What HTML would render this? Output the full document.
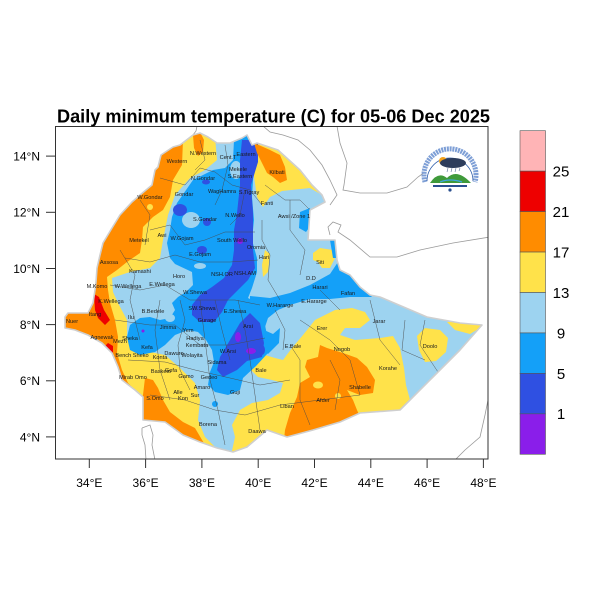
<!DOCTYPE html>
<html>
<head>
<meta charset="utf-8">
<style>
html,body{margin:0;padding:0;background:#fff;}
svg{display:block;}
.t{font-family:"Liberation Sans",Arial,sans-serif;}
.lab{font-family:"Liberation Sans",Arial,sans-serif;font-size:5.6px;fill:#1a1a1a;text-anchor:middle;}
</style>
</head>
<body>
<svg width="600" height="600" viewBox="0 0 600 600" xmlns="http://www.w3.org/2000/svg">
<rect width="600" height="600" fill="#fff"/>
<defs>
<clipPath id="eth">
<path d="M161,155 L173,147 L180,145 L193,135 L200,133 L208,137 L217,143 L230,143 L242,138 L247,135 L252,145 L257,143 L278,150 L300,170 L312,185 L322,195 L325,202 L310,210 L308,240 L335,240 L337,260 L340,270 L350,275 L360,287 L370,295 L380,297 L427,317 L460,323 L482,325 L460,350 L433,377 L413,397 L400,410 L360,413 L340,422 L313,430 L287,437 L267,430 L247,447 L233,452 L217,448 L200,442 L183,435 L165,422 L143,420 L143,397 L135,390 L122,380 L118,367 L112,353 L102,343 L88,335 L75,330 L65,328 L65,317 L68,313 L88,313 L93,303 L95,290 L96,282 L97,268 L100,255 L103,243 L112,228 L120,215 L132,202 L140,195 L152,185 L155,170 L158,167 Z"/>
</clipPath>
<clipPath id="plot"><rect x="55" y="126" width="433" height="333"/></clipPath>
</defs>

<!-- neighbour lines -->
<g clip-path="url(#plot)" fill="none" stroke="#9a9a9a" stroke-width="0.8">
<polyline points="197,126 196,131 193,135"/>
<polyline points="263,126 270,132 283,135 298,140 310,150 322,165 330,180 337,195 330,205"/>
<polyline points="337,126 340,143 347,163 344,185 343,190 360,193 387,193 407,187 418,177 425,172"/>
<polyline points="330,235 328,227 333,222 341,225 338,232 350,240 370,257 397,257 420,250 453,243 490,237"/>
<polyline points="490,390 485,415 480,437 465,450 455,460"/>
<path d="M142,428 L150,425 L153,435 L152,445 L155,460 M146,460 L145,445 L142,435 L142,428"/>
</g>

<!-- map fill -->
<g clip-path="url(#eth)">
<rect x="55" y="120" width="440" height="340" fill="#FFE24A"/>
<!-- light blue -->
<polygon fill="#9DD3F0" points="212,120 215,137 217,160 205,170 190,178 175,195 168,215 163,240 160,258 150,268 130,272 112,278 113,292 118,303 127,320 127,337 133,348 150,352 165,355 180,368 195,383 200,400 198,420 205,437 218,450 230,460 235,437 232,425 240,410 252,403 268,400 280,393 283,383 272,380 258,377 251,370 256,360 265,355 275,358 283,360 292,348 303,335 315,320 335,310 352,308 365,312 370,320 360,328 345,328 340,335 355,340 380,338 393,336 400,348 404,368 406,385 410,400 440,380 520,330 500,290 360,200 330,192 322,195 310,188 282,191 270,197 263,207 257,197 253,170 250,145 250,120"/>
<!-- yellow patches on light blue -->
<polygon fill="#FFE24A" points="313,253 320,248 333,250 335,258 330,268 322,268 318,262 313,260"/>
<polygon fill="#FFE24A" points="265,250 270,254 268,272 263,277 262,265"/>
<polygon fill="#FFE24A" points="417,336 425,328 440,330 448,338 446,352 436,361 425,362 419,350"/>
<polygon fill="#FFE24A" points="447,322 490,322 470,334 455,330"/>
<!-- blue -->
<g fill="#14A0F8">
<polygon points="234,130 256,130 253,143 254,165 252,197 254,220 252,240 257,258 257,272 252,288 248,298 256,302 262,312 265,325 268,340 268,353 256,366 243,378 240,390 228,395 215,392 208,385 210,372 214,362 212,350 206,340 198,332 188,330 175,335 165,345 155,352 140,355 130,350 127,337 130,325 140,318 150,317 160,320 170,318 175,310 172,303 178,297 186,292 193,285 192,272 175,264 170,258 167,243 170,230 172,217 177,203 193,180 213,170 225,168 233,160 234,140"/>
<polygon points="250,296 270,298 290,293 310,285 330,274 338,262 345,268 360,285 372,297 350,297 330,299 310,299 290,305 278,310 268,318 264,330 273,334 280,328 279,343 268,354 260,345 258,320 250,305"/>
<polygon points="300,212 310,208 311,225 306,232 299,228"/>
<polygon points="330,240 337,240 338,258 333,258"/>
<ellipse cx="215" cy="404" rx="3" ry="3"/>
</g>
<!-- light blue holes -->
<g fill="#9DD3F0">
<ellipse cx="236" cy="170" rx="6" ry="9"/>
<ellipse cx="191" cy="220" rx="9" ry="8"/>
<ellipse cx="200" cy="266" rx="6" ry="3"/>
<ellipse cx="170" cy="318" rx="5" ry="4"/>
</g>
<!-- dark blue -->
<g fill="#2F50E2">
<polygon points="242,140 252,140 258,142 258,162 251,185 253,213 253,250 255,268 248,280 238,290 228,300 222,312 214,322 200,322 192,315 192,305 200,295 212,287 224,278 232,265 234,250 234,230 237,213 240,185 240,160"/>
<polygon points="250,313 260,323 264,343 262,357 247,361 237,370 223,377 217,370 220,357 230,340 240,323"/>
<ellipse cx="180" cy="210" rx="7" ry="6"/>
<ellipse cx="202" cy="250" rx="5" ry="4"/>
<ellipse cx="207" cy="222" rx="4" ry="4"/>
<ellipse cx="206" cy="182" rx="4" ry="2.5"/>
<ellipse cx="262" cy="350" rx="3" ry="5"/>
</g>
<!-- purple -->
<g fill="#8A1EEA">
<ellipse cx="240" cy="241" rx="3" ry="3"/>
<ellipse cx="238" cy="337" rx="3" ry="5"/>
<ellipse cx="251" cy="351" rx="5" ry="3"/>
<ellipse cx="143" cy="331" rx="1.5" ry="1.5"/>
</g>
<!-- orange -->
<g fill="#FF8C00">
<polygon points="60,120 178,120 183,140 182,165 173,180 170,197 163,210 153,217 143,227 142,240 140,253 127,262 117,270 107,277 108,290 110,303 115,320 118,337 117,353 122,370 128,383 137,392 60,420"/>
<polygon points="193,135 200,132 204,140 203,152 198,156 194,148"/>
<polygon points="143,395 145,378 153,380 158,388 163,400 170,412 183,422 195,428 205,445 150,470 130,420 140,400"/>
<polygon points="320,345 318,357 307,360 305,367 310,377 300,383 297,397 290,413 285,430 283,450 370,440 357,410 353,400 347,390 360,395 373,393 375,380 367,367 357,358 343,353 327,348"/>
<polygon points="254,143 270,150 280,155 285,167 287,180 280,183 273,177 267,173 262,163 257,153"/>
</g>
<g fill="#FFE24A">
<ellipse cx="318" cy="385" rx="5" ry="3.5"/>
<ellipse cx="338" cy="396" rx="3" ry="3"/>
<ellipse cx="150" cy="207" rx="3" ry="3"/>
</g>
<!-- red -->
<g fill="#EE0000">
<polygon points="94,294 99,297 104,310 110,320 105,325 98,318 95,310"/>
<polygon points="103,348 108,343 113,346 113,355 108,358 104,355"/>
</g>
<!-- internal boundaries -->
<g fill="none" stroke="#4a4a4a" stroke-width="0.45">
<polyline points="160,178 185,185 200,168 215,172 232,185 250,190 262,205"/>
<polyline points="150,230 170,225 185,245 205,240 225,232 255,232"/>
<polyline points="125,258 150,262 175,255 200,262 230,262 258,260"/>
<polyline points="110,285 140,290 165,285 190,300 210,300 235,300 260,305"/>
<polyline points="115,320 150,325 175,325 200,345 230,345 265,338"/>
<polyline points="128,360 165,362 195,370 230,378 260,385 290,380"/>
<polyline points="150,395 185,400 215,410 245,415 280,405 320,400 360,395"/>
<polyline points="262,220 262,240 270,255 268,280 280,300"/>
<polyline points="290,200 290,230 305,250 300,275"/>
<polyline points="300,320 330,340 350,360 360,395"/>
<polyline points="370,300 380,340 400,365"/>
<polyline points="290,345 300,360 300,400 310,425"/>
<polyline points="200,300 205,340 210,380 218,410 225,445"/>
<polyline points="160,300 155,330 160,370 170,400"/>
<polyline points="238,300 245,330 250,360 255,395 260,430"/>
<polyline points="330,360 340,380 335,410"/>
<polyline points="405,320 402,350 425,360"/>
<polyline points="200,140 205,160 195,170"/>
<polyline points="225,145 228,165 222,190 215,205"/>
<polyline points="245,190 240,215 230,225"/>
<polyline points="265,185 285,200 300,200 315,215"/>
<polyline points="140,200 150,215 145,245"/>
<polyline points="120,250 135,275 130,300 140,340"/>
<polyline points="180,300 185,320 178,345 180,370 190,390"/>
<polyline points="215,300 222,330 230,360"/>
<polyline points="275,310 285,330 283,350"/>
<polyline points="320,290 330,300 340,310"/>
<polyline points="425,320 420,345 440,375"/>
</g>
</g>
<!-- country outline -->
<path fill="none" stroke="#cfcfcf" stroke-width="1.6" stroke-linejoin="round" d="M161,155 L173,147 L180,145 L193,135 L200,133 L208,137 L217,143 L230,143 L242,138 L247,135 L252,145 L257,143 L278,150 L300,170 L312,185 L322,195 L325,202 L310,210 L308,240 L335,240 L337,260 L340,270 L350,275 L360,287 L370,295 L380,297 L427,317 L460,323 L482,325 L460,350 L433,377 L413,397 L400,410 L360,413 L340,422 L313,430 L287,437 L267,430 L247,447 L233,452 L217,448 L200,442 L183,435 L165,422 L143,420 L143,397 L135,390 L122,380 L118,367 L112,353 L102,343 L88,335 L75,330 L65,328 L65,317 L68,313 L88,313 L93,303 L95,290 L96,282 L97,268 L100,255 L103,243 L112,228 L120,215 L132,202 L140,195 L152,185 L155,170 L158,167 Z"/>

<!-- zone labels -->
<g class="lab">
<text x="203" y="155">N.Western</text>
<text x="228" y="159">Cent.T</text>
<text x="246" y="156">Eastern</text>
<text x="177" y="163">Western</text>
<text x="238" y="171">Mekele</text>
<text x="240" y="178">S.Eastern</text>
<text x="203" y="180">N.Gondar</text>
<text x="222" y="193">WagHamra</text>
<text x="249" y="194">S.Tigray</text>
<text x="150" y="199">W.Gondar</text>
<text x="184" y="196">Gondar</text>
<text x="277" y="174">Kilbati</text>
<text x="267" y="205">Fanti</text>
<text x="294" y="218">Awsi /Zone 1</text>
<text x="205" y="221">S.Gondar</text>
<text x="235" y="217">N.Wello</text>
<text x="139" y="242">Metekel</text>
<text x="162" y="237">Awi</text>
<text x="182" y="240">W.Gojam</text>
<text x="232" y="242">South Wello</text>
<text x="256" y="249">Oromia</text>
<text x="264" y="259">Hari</text>
<text x="320" y="264">Siti</text>
<text x="200" y="256">E.Gojam</text>
<text x="109" y="264">Assosa</text>
<text x="140" y="273">Kamashi</text>
<text x="179" y="278">Horo</text>
<text x="222" y="276">NSH.OR</text>
<text x="245" y="275">NSH.AM</text>
<text x="311" y="280">D.D</text>
<text x="320" y="289">Harari</text>
<text x="348" y="295">Fafan</text>
<text x="97" y="288">M.Komo</text>
<text x="128" y="288">W.Wellega</text>
<text x="162" y="286">E.Wellega</text>
<text x="195" y="294">W.Shewa</text>
<text x="280" y="307">W.Hararge</text>
<text x="314" y="303">E.Hararge</text>
<text x="111" y="303">K.Wellega</text>
<text x="153" y="313">B.Bedele</text>
<text x="202" y="310">SW.Shewa</text>
<text x="235" y="313">E.Shewa</text>
<text x="131" y="319">Ilu</text>
<text x="95" y="316">Itang</text>
<text x="72" y="323">Nuer</text>
<text x="207" y="322">Gurage</text>
<text x="168" y="329">Jimma</text>
<text x="188" y="332">Yem</text>
<text x="248" y="328">Arsi</text>
<text x="102" y="339">Agnewak</text>
<text x="130" y="340">Sheka</text>
<text x="195" y="340">Hadiya</text>
<text x="120" y="343">Mezh</text>
<text x="147" y="349">Kefa</text>
<text x="197" y="347">Kembata</text>
<text x="228" y="353">W.Arsi</text>
<text x="132" y="357">Bench Sheko</text>
<text x="160" y="359">Konta</text>
<text x="174" y="355">Dawuro</text>
<text x="192" y="357">Wolayita</text>
<text x="217" y="364">Sidama</text>
<text x="293" y="348">E.Bale</text>
<text x="322" y="330">Erer</text>
<text x="379" y="323">Jarar</text>
<text x="430" y="348">Doolo</text>
<text x="342" y="351">Nogob</text>
<text x="261" y="372">Bale</text>
<text x="133" y="379">Mirab Omo</text>
<text x="161" y="373">Basketo</text>
<text x="171" y="372">Gofa</text>
<text x="186" y="378">Gamo</text>
<text x="209" y="379">Gedeo</text>
<text x="388" y="370">Korahe</text>
<text x="178" y="394">Alle</text>
<text x="202" y="389">Amaro</text>
<text x="235" y="394">Guji</text>
<text x="183" y="400">Kon</text>
<text x="195" y="397">Sur</text>
<text x="360" y="389">Shabelle</text>
<text x="155" y="400">S.Omo</text>
<text x="323" y="402">Afder</text>
<text x="287" y="408">Liban</text>
<text x="208" y="426">Borena</text>
<text x="257" y="433">Daawa</text>
</g>

<!-- logo -->
<g>
<path d="M425,182 A26,26 0 1 1 475,182" fill="none" stroke="#7e9fd6" stroke-width="5" stroke-dasharray="2 0.8"/>
<path d="M427,181 A23,23 0 1 1 473,181" fill="none" stroke="#2a5aa8" stroke-width="0.8"/>
<circle cx="443" cy="161" r="4" fill="#f3a21c"/>
<ellipse cx="453" cy="163" rx="13" ry="5" fill="#2d3d5c"/>
<g stroke="#5a6f9a" stroke-width="0.6">
<line x1="448" y1="168" x2="447" y2="172"/><line x1="452" y1="168" x2="451" y2="172"/><line x1="456" y1="168" x2="455" y2="172"/><line x1="460" y1="168" x2="459" y2="171"/>
</g>
<path d="M430,183 Q438,171 447,178 Q457,168 471,183 Z" fill="#3f9a3a"/>
<path d="M440,182 Q450,178 462,182" stroke="#3fa7e0" stroke-width="1.2" fill="none"/>
<rect x="433" y="185" width="34" height="2" fill="#2a4f8f"/>
<circle cx="450" cy="190" r="1.6" fill="#2a4f8f"/>
</g>

<!-- frame -->
<rect x="55.5" y="126.5" width="432.5" height="332.5" fill="none" stroke="#333" stroke-width="1"/>
<!-- ticks -->
<g stroke="#333" stroke-width="1">
<line x1="46" y1="156.1" x2="55" y2="156.1"/>
<line x1="46" y1="212.3" x2="55" y2="212.3"/>
<line x1="46" y1="268.5" x2="55" y2="268.5"/>
<line x1="46" y1="324.6" x2="55" y2="324.6"/>
<line x1="46" y1="380.8" x2="55" y2="380.8"/>
<line x1="46" y1="436.9" x2="55" y2="436.9"/>
<line x1="89.3" y1="459" x2="89.3" y2="468"/>
<line x1="145.6" y1="459" x2="145.6" y2="468"/>
<line x1="201.9" y1="459" x2="201.9" y2="468"/>
<line x1="258.2" y1="459" x2="258.2" y2="468"/>
<line x1="314.5" y1="459" x2="314.5" y2="468"/>
<line x1="370.8" y1="459" x2="370.8" y2="468"/>
<line x1="427.1" y1="459" x2="427.1" y2="468"/>
<line x1="483.4" y1="459" x2="483.4" y2="468"/>
</g>
<g class="t" font-size="12" fill="#000" text-anchor="end">
<text x="40" y="160.5">14°N</text>
<text x="40" y="216.7">12°N</text>
<text x="40" y="272.9">10°N</text>
<text x="40" y="329">8°N</text>
<text x="40" y="385.2">6°N</text>
<text x="40" y="441.3">4°N</text>
</g>
<g class="t" font-size="12" fill="#000" text-anchor="middle">
<text x="89.3" y="487">34°E</text>
<text x="145.6" y="487">36°E</text>
<text x="201.9" y="487">38°E</text>
<text x="258.2" y="487">40°E</text>
<text x="314.5" y="487">42°E</text>
<text x="370.8" y="487">44°E</text>
<text x="427.1" y="487">46°E</text>
<text x="483.4" y="487">48°E</text>
</g>

<!-- title -->
<text class="t" x="57" y="122.5" font-size="18" font-weight="bold" fill="#000" textLength="433" lengthAdjust="spacingAndGlyphs">Daily minimum temperature (C) for 05-06 Dec 2025</text>

<!-- colorbar -->
<g stroke="#555" stroke-width="0.6">
<rect x="520" y="130.7" width="25.5" height="40.45" fill="#FFB4B6"/>
<rect x="520" y="171.15" width="25.5" height="40.45" fill="#EE0000"/>
<rect x="520" y="211.6" width="25.5" height="40.45" fill="#FF8C00"/>
<rect x="520" y="252.05" width="25.5" height="40.45" fill="#FFE24A"/>
<rect x="520" y="292.5" width="25.5" height="40.45" fill="#9DD3F0"/>
<rect x="520" y="332.95" width="25.5" height="40.45" fill="#14A0F8"/>
<rect x="520" y="373.4" width="25.5" height="40.45" fill="#2F50E2"/>
<rect x="520" y="413.85" width="25.5" height="40.45" fill="#8A1EEA"/>
</g>
<g class="t" font-size="15" fill="#000" text-anchor="middle">
<text x="561" y="176.5">25</text>
<text x="561" y="217">21</text>
<text x="561" y="257.4">17</text>
<text x="561" y="297.9">13</text>
<text x="561" y="338.3">9</text>
<text x="561" y="378.8">5</text>
<text x="561" y="419.2">1</text>
</g>
</svg>
</body>
</html>
